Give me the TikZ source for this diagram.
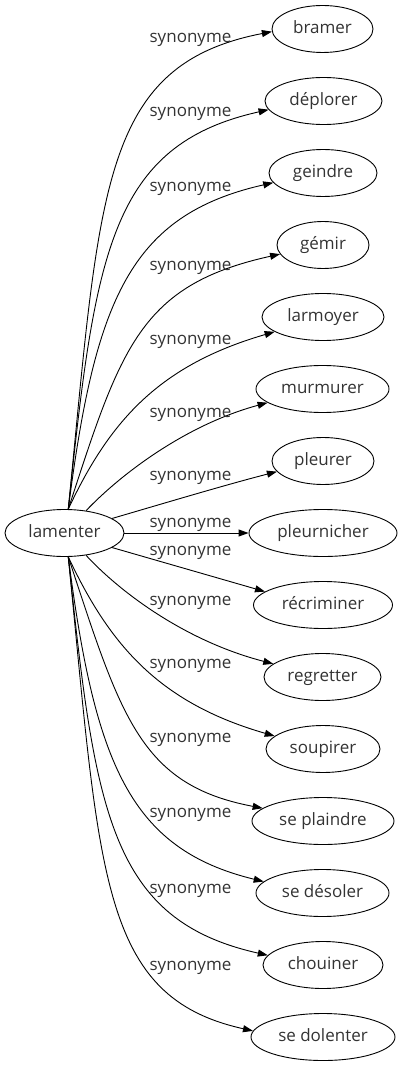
\documentclass[tikz,border=0pt]{standalone}
\usepackage{fontspec}
\setmainfont{Open Sans}
\usetikzlibrary{arrows.meta,shapes.geometric}

\begin{document}
\begin{tikzpicture}[x=1pt,y=-1pt,
    every node/.style={font=\fontsize{17}{20}\selectfont,text=black!80},
    word/.style={draw,ellipse,line width=0.9pt,inner sep=0pt,minimum height=47pt,
                 text height=12.5pt,text depth=3.5pt},
    syn/.style={line width=0.9pt,-{Triangle[length=10pt,width=7pt]}},
    rel/.style={anchor=base}]
                \useasboundingbox (0,0) rectangle (402,1067);

                \node[word,minimum width=119pt] (lamenter) at (64.5,533) {lamenter};

                \node[word,minimum width=101pt] (bramer) at (322.5,29) {bramer};
                \node[word,minimum width=117pt] (deplorer) at (323.5,101) {déplorer};
                \node[word,minimum width=108pt] (geindre) at (323,173) {geindre};
                \node[word,minimum width=92pt] (gemir) at (323,245) {gémir};
                \node[word,minimum width=122pt] (larmoyer) at (323,317) {larmoyer};
                \node[word,minimum width=133pt] (murmurer) at (322.5,389) {murmurer};
                \node[word,minimum width=102pt] (pleurer) at (323,461) {pleurer};
                \node[word,minimum width=148pt] (pleurnicher) at (323,533) {pleurnicher};
                \node[word,minimum width=139pt] (recriminer) at (323,605) {récriminer};
                \node[word,minimum width=117pt] (regretter) at (322.5,677) {regretter};
                \node[word,minimum width=114pt] (soupirer) at (323,749) {soupirer};
                \node[word,minimum width=142pt] (plaindre) at (323,821) {se plaindre};
                \node[word,minimum width=133pt] (desoler) at (322.5,893) {se désoler};
                \node[word,minimum width=120pt] (chouiner) at (323,965) {chouiner};
                \node[word,minimum width=144pt] (dolenter) at (323,1037) {se dolenter};

                \draw[syn] (lamenter.81) .. controls (100,190) and (100,65) .. (bramer.183);
                \draw[syn] (lamenter.81) .. controls (95,254) and (110,145) .. (deplorer.189);
                \draw[syn] (lamenter.81) .. controls (95,300) and (130,215) .. (geindre.191);
                \draw[syn] (lamenter.81) .. controls (121,347) and (140,285) .. (gemir.192);
                \draw[syn] (lamenter.81) .. controls (110,420) and (160,365) .. (larmoyer.197);
                \draw[syn] (lamenter.46) .. controls (120,475) and (185,425) .. (murmurer.194);
                \draw[syn] (lamenter.17) .. controls (165,503) and (225,485) .. (pleurer.193);
                \draw[syn] (lamenter) -- (pleurnicher);
                \draw[syn] (lamenter.-17) -- (recriminer.167);
                \draw[syn] (lamenter.-46) .. controls (120,592) and (185,641) .. (regretter.165);
                \draw[syn] (lamenter.-81) .. controls (110,646) and (160,703) .. (soupirer.165);
                \draw[syn] (lamenter.-81) .. controls (121,717) and (140,785) .. (plaindre.168);
                \draw[syn] (lamenter.-81) .. controls (95,764) and (130,849) .. (desoler.169);
                \draw[syn] (lamenter.-81) .. controls (95,812) and (110,920) .. (chouiner.170);
                \draw[syn] (lamenter.-81) .. controls (100,876) and (100,997) .. (dolenter.175);

                \node[rel] (s1) at (190.5,43) {synonyme};
                \node[rel] (s2) at (190.5,117) {synonyme};
                \node[rel] (s3) at (190.5,192) {synonyme};
                \node[rel] (s4) at (190.5,270) {synonyme};
                \node[rel] (s5) at (190.5,344) {synonyme};
                \node[rel] (s6) at (190.5,417) {synonyme};
                \node[rel] (s7) at (190.5,480) {synonyme};
                \node[rel] (s8) at (190.5,527) {synonyme};
                \node[rel] (s9) at (190.5,555) {synonyme};
                \node[rel] (s10) at (190.5,605) {synonyme};
                \node[rel] (s11) at (190.5,668) {synonyme};
                \node[rel] (s12) at (190.5,742) {synonyme};
                \node[rel] (s13) at (190.5,817) {synonyme};
                \node[rel] (s14) at (190.5,893) {synonyme};
                \node[rel] (s15) at (190.5,970) {synonyme};
\end{tikzpicture}
\end{document}
